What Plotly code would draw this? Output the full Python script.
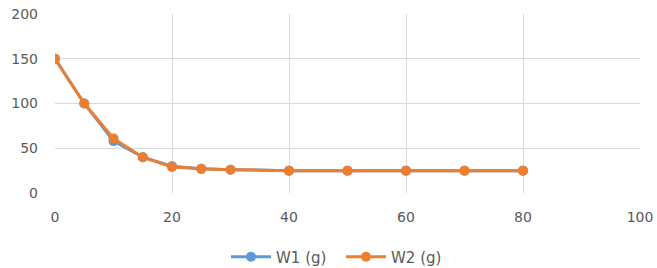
import plotly.graph_objects as go

x_vals = [0, 5, 10, 15, 20, 25, 30, 40, 50, 60, 70, 80]
w1 = [150, 100, 58, 40, 30, 27, 26, 25, 25, 25, 25, 25]
w2 = [150, 100, 61, 40, 29, 27, 26, 25, 25, 25, 25, 25]
names = ["W1 (g)", "W2 (g)"]
colors = ["#5B9BD5", "#ED7D31"]

fig = go.Figure()
for y, n, c in zip([w1, w2], names, colors):
    fig.add_trace(go.Scatter(x=x_vals, y=y, name=n, mode="lines+markers",
                             line=dict(color=c, width=3),
                             marker=dict(color=c, size=10)))

fig.update_layout(
    width=657, height=268,
    margin=dict(l=55, r=17, t=14, b=75),
    paper_bgcolor="white", plot_bgcolor="white",
    font=dict(family="DejaVu Sans", size=14, color="#595959"),
    showlegend=True,
    legend=dict(orientation="h", x=226 / 657, xanchor="left", xref="container",
                y=0.041, yanchor="middle", yref="container",
                font=dict(size=15, color="#595959"), itemwidth=40,
                entrywidth=60, entrywidthmode="pixels"),
    xaxis=dict(range=[0, 100], dtick=20, showgrid=True, gridcolor="#D9D9D9",
               zeroline=False, showline=False, ticks="", ticklabelstandoff=14,
               automargin=False, ticklabeloverflow="allow"),
    yaxis=dict(range=[0, 200], dtick=50, showgrid=True, gridcolor="#D9D9D9",
               zeroline=False, showline=False, ticks="", ticklabelstandoff=16,
               automargin=False, ticklabeloverflow="allow"),
)
fig.write_html(
    "out.html",
    config={"displayModeBar": False},
    post_script="document.body.style.margin='0';document.body.style.overflow='hidden';",
)
